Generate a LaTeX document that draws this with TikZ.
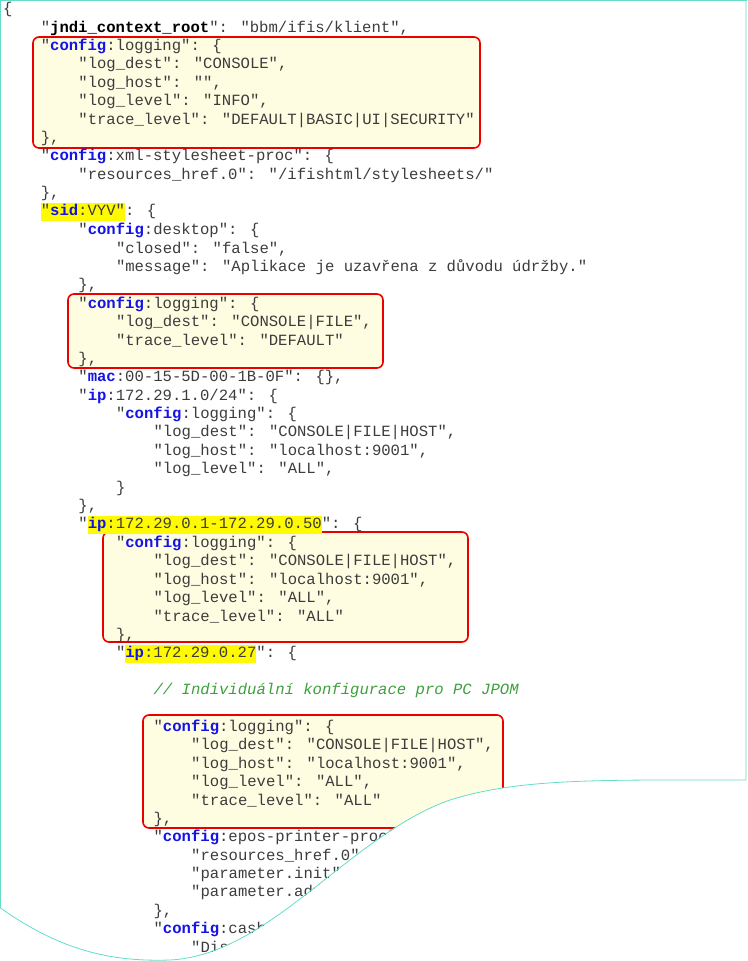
\documentclass[tikz,border=0pt]{standalone}
\usepackage{fontspec}
\newfontfamily\codefont{Liberation Mono}
\usepackage{tikz}
\definecolor{mytext}{RGB}{60,60,60}
\definecolor{mykey}{RGB}{20,20,230}
\definecolor{myhl}{RGB}{255,250,0}
\definecolor{myboxfill}{RGB}{255,253,225}
\definecolor{myboxline}{RGB}{235,0,0}
\definecolor{myedge}{RGB}{100,220,200}
\definecolor{mycomment}{RGB}{60,160,60}
\newcommand\kw[1]{\textcolor{mykey}{\bfseries #1}}
\newcommand\hl[1]{{\fboxsep=0pt\colorbox{myhl}{\strut #1}}}
\newcommand\row[3]{\node[codeline] (l#1) at ({3+#2*37.6},{-9.6-(#1-1)*18.4}) {#3};}

\begin{document}
\begin{tikzpicture}[
  x=1pt, y=1pt,
  codeline/.style={
    anchor=west,
    inner sep=0pt,
    text=mytext,
    font=\codefont\fontsize{15.6}{18}\selectfont
    },
  logbox/.style={
    draw=myboxline,
    line width=1.6pt,
    fill=myboxfill,
    rounded corners=6pt
    },
  tornedge/.style={
    draw=myedge,
    line width=0.8pt
    }
]
\useasboundingbox (0,0) rectangle (747,-961);

\begin{scope}
\clip (0,0) -- (0,-908) .. controls (60,-950) and (110,-962) .. (170,-960)
  .. controls (270,-955) and (350,-835) .. (450,-800)
  .. controls (520,-778) and (600,-780) .. (747,-780) -- (747,0) -- cycle;

% highlighted config blocks
\draw[logbox] (33,-37) rectangle (480,-148);
\draw[logbox] (68,-294) rectangle (383,-368);
\draw[logbox] (103,-532) rectangle (468,-642);
\draw[logbox] (143,-715) rectangle (503,-828);

\row{1}{0}{\{}
\row{2}{1}{"{\bfseries\color{black}jndi\_context\_root}": "bbm/ifis/klient",}
\row{3}{1}{"\kw{config}:logging": \{}
\row{4}{2}{"log\_dest": "CONSOLE",}
\row{5}{2}{"log\_host": "",}
\row{6}{2}{"log\_level": "INFO",}
\row{7}{2}{"trace\_level": "DEFAULT|BASIC|UI|SECURITY"}
\row{8}{1}{\},}
\row{9}{1}{"\kw{config}:xml-stylesheet-proc": \{}
\row{10}{2}{"resources\_href.0": "/ifishtml/stylesheets/"}
\row{11}{1}{\},}
\row{12}{1}{\hl{"\kw{sid}:VYV"}: \{}
\row{13}{2}{"\kw{config}:desktop": \{}
\row{14}{3}{"closed": "false",}
\row{15}{3}{"message": "Aplikace je uzavřena z důvodu údržby."}
\row{16}{2}{\},}
\row{17}{2}{"\kw{config}:logging": \{}
\row{18}{3}{"log\_dest": "CONSOLE|FILE",}
\row{19}{3}{"trace\_level": "DEFAULT"}
\row{20}{2}{\},}
\row{21}{2}{"\kw{mac}:00-15-5D-00-1B-0F": \{\},}
\row{22}{2}{"\kw{ip}:172.29.1.0/24": \{}
\row{23}{3}{"\kw{config}:logging": \{}
\row{24}{4}{"log\_dest": "CONSOLE|FILE|HOST",}
\row{25}{4}{"log\_host": "localhost:9001",}
\row{26}{4}{"log\_level": "ALL",}
\row{27}{3}{\}}
\row{28}{2}{\},}
\row{29}{2}{"\hl{\kw{ip}:172.29.0.1-172.29.0.50}": \{}
\row{30}{3}{"\kw{config}:logging": \{}
\row{31}{4}{"log\_dest": "CONSOLE|FILE|HOST",}
\row{32}{4}{"log\_host": "localhost:9001",}
\row{33}{4}{"log\_level": "ALL",}
\row{34}{4}{"trace\_level": "ALL"}
\row{35}{3}{\},}
\row{36}{3}{"\hl{\kw{ip}:172.29.0.27}": \{}
\row{38}{4}{\textcolor{mycomment}{\itshape // Individuální konfigurace pro PC JPOM}}
\row{40}{4}{"\kw{config}:logging": \{}
\row{41}{5}{"log\_dest": "CONSOLE|FILE|HOST",}
\row{42}{5}{"log\_host": "localhost:9001",}
\row{43}{5}{"log\_level": "ALL",}
\row{44}{5}{"trace\_level": "ALL"}
\row{45}{4}{\},}
\row{46}{4}{"\kw{config}:epos-printer-proc": \{}
\row{47}{5}{"resources\_href.0": "/ifishtml/stylesheets/"}
\row{48}{5}{"parameter.init": "",}
\row{49}{5}{"parameter.address": "VYV",}
\row{50}{4}{\},}
\row{51}{4}{"\kw{config}:cashdevs": \{}
\row{52}{5}{"DisplayDriver": "",}
\end{scope}

% torn page outline
\draw[tornedge] (747,-0.5) -- (0.5,-0.5) -- (0.5,-908)
  .. controls (60,-950) and (110,-962) .. (170,-960)
  .. controls (270,-955) and (350,-835) .. (450,-800)
  .. controls (520,-778) and (600,-780) .. (746,-780) -- (746,-0.5);
\end{tikzpicture}
\end{document}
